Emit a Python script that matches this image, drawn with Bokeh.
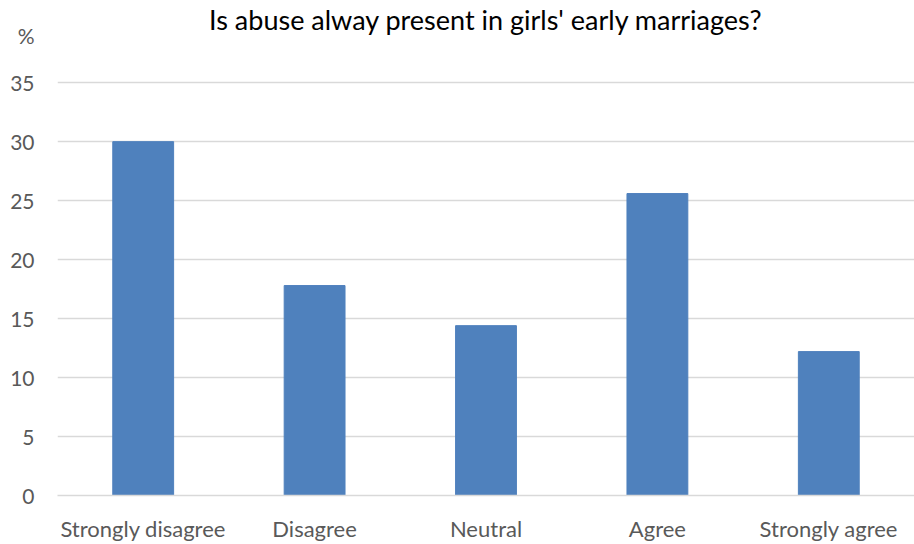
from bokeh.plotting import figure
from bokeh.models import FixedTicker
from bokeh.embed import file_html
from bokeh.resources import INLINE

categories = ["Strongly disagree", "Disagree", "Neutral", "Agree", "Strongly agree"]
percent = [30.0, 17.8, 14.4, 25.6, 12.2]
y_ticks = [0, 5, 10, 15, 20, 25, 30, 35]
title_text = "Is abuse alway present in girls' early marriages?"
y_unit = "%"
y_unit_pos = 39  # the unit sign sits above the top tick, in the tick label column

FONT = "Lato"

p = figure(x_range=categories, y_range=(0, y_unit_pos), width=914, height=544,
           output_backend="svg", toolbar_location=None,
           min_border_left=57, min_border_right=0, min_border_top=35, min_border_bottom=48)
p.vbar(x=categories, top=percent, width=0.355, fill_color="#4F81BD", line_color="#4F81BD")

p.outline_line_color = None
p.xgrid.grid_line_color = None
p.ygrid.ticker = FixedTicker(ticks=y_ticks)
p.ygrid.grid_line_color = "#D9D9D9"
p.ygrid.grid_line_width = 1.5
p.yaxis.ticker = FixedTicker(ticks=y_ticks + [y_unit_pos])
p.yaxis.major_label_overrides = {y_unit_pos: y_unit}
for ax in (p.xaxis, p.yaxis):
    ax.axis_line_color = None
    ax.major_tick_line_color = None
    ax.minor_tick_line_color = None
    ax.major_label_text_font = FONT
    ax.major_label_text_color = "#595959"
p.xaxis.major_label_text_font_size = "22px"
p.yaxis.major_label_text_font_size = "21px"
p.xaxis.axis_line_color = "#D9D9D9"
p.xaxis.axis_line_width = 1.5
p.xaxis.major_label_standoff = 13
p.yaxis.major_label_standoff = 17

p.title.text = title_text
p.title.align = "center"
p.title.offset = 3
p.title.text_font = FONT
p.title.text_font_size = "27px"
p.title.text_font_style = "normal"
p.title.text_color = "#000000"
p.title.text_line_height = 1.0
p.title.standoff = 0

open("out.html", "w").write(file_html(p, INLINE))
